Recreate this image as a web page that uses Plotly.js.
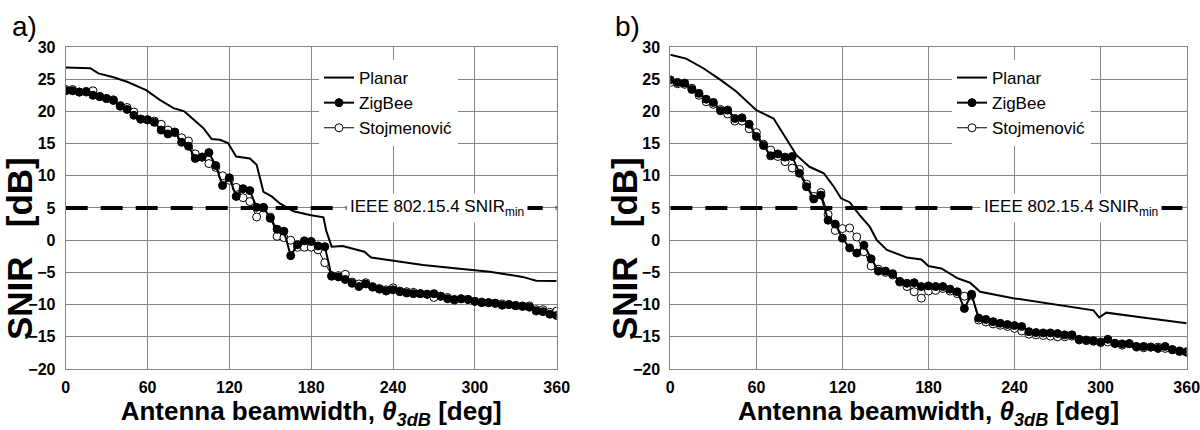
<!DOCTYPE html>
<html>
<head>
<meta charset="utf-8">
<script src="https://cdn.plot.ly/plotly-3.0.1.min.js"></script>
<style>html,body{margin:0;padding:0;background:#fff;}#chart{width:1200px;height:430px;}</style>
</head>
<body>
<div id="chart"></div>
<script>
// ---------- DATA ----------
const seriesNames = ["Planar", "ZigBee", "Stojmenović"];
const thresholdLabel = "IEEE 802.15.4 SNIR<sub>min</sub>";
const thresholdValue = 5;
const xTickVals = [0, 60, 120, 180, 240, 300, 360];
const yTickVals = [-20, -15, -10, -5, 0, 5, 10, 15, 20, 25, 30];

// beamwidth grid for ZigBee / Stojmenović samples (deg)
const beamwidth = [0,5,10,15,20,25,30,35,40,45,50,55,60,65,70,75,80,85,90,95,100,105,110,115,120,125,130,135,140,145,150,155,160,165,170,175,180,185,190,195,200,205,210,215,220,225,230,235,240,245,250,255,260,265,270,275,280,285,290,295,300,305,310,315,320,325,330,335,340,345,350,355,360];

// Panel a)
const planarA_x = [0, 18, 24, 35, 45, 59, 69, 79, 87, 94, 101, 107, 113, 119, 125, 135, 140, 145, 151, 157, 167, 179, 189, 191, 195, 203, 219, 224, 238, 262, 287, 311, 335, 345, 360];
const planarA_y = [26.8, 26.7, 25.9, 25.3, 24.6, 23.3, 21.8, 20.5, 20.0, 18.7, 17.4, 15.7, 15.6, 15.1, 13.0, 12.7, 11.7, 7.5, 6.8, 5.7, 4.5, 3.9, 3.55, 1.5, -1.0, -0.9, -1.8, -2.7, -3.1, -3.85, -4.4, -4.9, -5.7, -6.3, -6.35];
const zigbeeA = [23.2,23.2,23.0,23.1,22.5,22.3,22.0,21.7,20.8,20.3,19.4,18.8,18.7,18.3,17.1,16.5,16.8,15.2,14.6,12.7,12.9,13.6,11.6,8.5,9.7,6.8,8.0,7.7,5.1,5.1,3.4,1.7,1.4,-2.4,-0.7,-0.1,-0.2,-0.9,-1.0,-5.6,-5.7,-6.1,-6.7,-7.2,-6.8,-7.3,-7.6,-7.9,-7.7,-8.0,-8.2,-8.3,-8.3,-8.4,-8.3,-8.7,-9.1,-9.2,-9.1,-9.2,-9.5,-9.7,-9.7,-9.8,-10.1,-10.0,-10.2,-10.2,-10.4,-11.0,-11.1,-11.5,-11.7];
const stojA = [23.4,23.4,23.0,23.0,23.2,22.3,22.0,21.8,20.9,20.6,19.9,18.8,18.7,18.5,18.0,17.1,16.7,15.9,15.4,13.4,12.9,11.9,11.3,10.0,9.3,8.2,6.6,6.0,3.6,5.0,3.6,0.6,0.4,0.0,-1.1,-1.1,-1.1,-1.5,-3.5,-5.5,-5.5,-5.3,-6.5,-6.8,-6.6,-7.2,-7.5,-7.7,-7.4,-7.9,-8.0,-8.1,-8.3,-8.4,-8.9,-8.7,-8.9,-9.3,-9.1,-9.2,-9.5,-9.6,-9.7,-9.8,-9.9,-10.0,-10.1,-10.3,-10.2,-10.8,-10.8,-11.2,-11.0];

// Panel b)
const planarB_x = [0, 11, 23, 35, 46, 60, 72, 81, 88, 97, 107, 114, 119, 125, 132, 139, 144, 151, 165, 175, 180, 189, 200, 209, 216, 239, 262, 286, 295, 299, 304, 332, 360];
const planarB_y = [28.8, 28.2, 26.7, 24.9, 23.1, 20.2, 18.9, 15.6, 13.2, 11.4, 10.4, 8.3, 6.5, 5.9, 3.9, 2.1, 0.0, -1.5, -2.7, -3.0, -4.0, -4.4, -5.9, -6.6, -8.0, -9.0, -9.8, -10.6, -10.9, -12.0, -11.25, -12.1, -12.9];
const zigbeeB = [24.9,24.5,24.4,23.4,22.8,21.9,21.4,20.1,20.2,18.9,19.0,18.0,16.1,14.7,13.1,13.4,12.9,13.0,10.4,8.3,6.4,7.0,3.1,2.5,0.3,-1.2,-2.0,-0.8,-2.9,-4.8,-4.8,-5.2,-6.4,-6.7,-6.6,-7.2,-7.1,-7.2,-7.2,-7.6,-8.0,-10.6,-8.4,-12.1,-12.3,-12.65,-12.9,-13.1,-13.25,-13.4,-14.2,-14.35,-14.4,-14.4,-14.5,-14.7,-14.7,-15.4,-15.5,-15.6,-15.8,-15.4,-16.05,-16.1,-16.05,-16.5,-16.5,-16.6,-16.8,-16.5,-17.0,-17.2,-17.4];
const stojB = [24.5,24.3,24.2,23.6,22.5,21.5,21.1,20.3,19.6,18.5,18.5,17.3,16.7,14.9,14.0,13.0,12.2,11.2,11.0,8.7,6.8,7.4,4.0,1.5,1.8,1.9,0.5,-1.8,-4.0,-4.5,-5.0,-5.4,-6.5,-7.2,-8.0,-9.0,-7.9,-7.8,-7.5,-7.9,-8.3,-8.7,-8.6,-12.4,-12.7,-13.0,-13.2,-13.4,-13.7,-14.1,-14.6,-14.7,-14.8,-14.9,-15.0,-15.0,-14.9,-15.5,-15.6,-15.7,-15.9,-15.8,-16.0,-16.3,-16.1,-16.6,-16.7,-16.6,-16.6,-16.8,-17.0,-17.3,-17.3];

// ---------- STYLE ----------
const FONT = "Liberation Sans, Arial, Helvetica, sans-serif";
const GRID = "#858585";

function panelTraces(xa, ya, legendId, px, py, zy, sy) {
  return [
    {x: [0, 360], y: [thresholdValue, thresholdValue], xaxis: xa, yaxis: ya, mode: "lines",
     line: {color: "#000", width: 4, dash: "22px,13px"}, showlegend: false, hoverinfo: "skip"},
    {x: px, y: py, xaxis: xa, yaxis: ya, name: seriesNames[0], legend: legendId, legendrank: 1,
     mode: "lines", line: {color: "#000", width: 2}},
    {x: beamwidth, y: sy, xaxis: xa, yaxis: ya, name: seriesNames[2], legend: legendId, legendrank: 3,
     mode: "lines+markers", line: {color: "#000", width: 1},
     marker: {symbol: "circle", size: 8, color: "#fff", line: {color: "#000", width: 1}}},
    {x: beamwidth, y: zy, xaxis: xa, yaxis: ya, name: seriesNames[1], legend: legendId, legendrank: 2,
     mode: "lines+markers", line: {color: "#000", width: 2},
     marker: {symbol: "circle", size: 8, color: "#000", line: {color: "#000", width: 1}}}
  ];
}

const data = [].concat(
  panelTraces("x", "y", "legend", planarA_x, planarA_y, zigbeeA, stojA),
  panelTraces("x2", "y2", "legend2", planarB_x, planarB_y, zigbeeB, stojB)
);

const tickFont = {family: FONT, size: 16, color: "#000", weight: "bold"};
function xAxis(domain, anchor) {
  return {domain: domain, anchor: anchor, range: [0, 360], tickvals: xTickVals,
    showgrid: true, gridcolor: GRID, gridwidth: 1, zeroline: false,
    showline: true, mirror: true, linecolor: GRID, linewidth: 1, ticks: "",
    tickfont: tickFont, ticklabelstandoff: 4, ticklabeloverflow: "allow", automargin: false,
    title: {text: "Antenna beamwidth, <i>θ<sub>3dB</sub></i> [deg]",
            font: {family: FONT, size: 26, color: "#000", weight: "bold"}, standoff: 4}};
}
function yAxis(domain, anchor) {
  return {domain: domain, anchor: anchor, range: [-20, 30], tickvals: yTickVals,
    showgrid: true, gridcolor: GRID, gridwidth: 1, zeroline: false,
    showline: true, mirror: true, linecolor: GRID, linewidth: 1, ticks: "",
    tickfont: tickFont, ticklabelstandoff: 6, ticklabeloverflow: "allow", automargin: false};
}
const yDom = [0.1419, 0.8907];
const legendBase = {bgcolor: "#fff", borderwidth: 0, font: {family: FONT, size: 17, color: "#000"},
  itemwidth: 30, xanchor: "left", yanchor: "top", traceorder: "normal", tracegroupgap: 0};

const layout = {
  width: 1200, height: 430,
  margin: {l: 0, r: 0, t: 0, b: 0},
  paper_bgcolor: "#fff", plot_bgcolor: "#fff",
  font: {family: FONT, color: "#000"},
  xaxis: xAxis([0.05475, 0.4639], "y"),
  yaxis: yAxis(yDom, "x"),
  xaxis2: xAxis([0.5586, 0.9889], "y2"),
  yaxis2: yAxis(yDom, "x2"),
  legend: Object.assign({x: 319 / 1200, y: 1 - 60 / 430}, legendBase),
  legend2: Object.assign({x: 952 / 1200, y: 1 - 60 / 430}, legendBase),
  annotations: [
    {text: "a)", xref: "paper", yref: "paper", x: 10 / 1200, y: 1 - 26 / 430, xanchor: "left", yanchor: "middle",
     showarrow: false, font: {family: FONT, size: 28, color: "#000"}},
    {text: "b)", xref: "paper", yref: "paper", x: 613 / 1200, y: 1 - 26 / 430, xanchor: "left", yanchor: "middle",
     showarrow: false, font: {family: FONT, size: 28, color: "#000"}},
    {text: "SNIR&nbsp;&nbsp;&nbsp;[dB]", xref: "paper", yref: "paper", x: 19 / 1200, y: 1 - 249 / 430,
     xanchor: "center", yanchor: "middle",
     textangle: -90, showarrow: false, font: {family: FONT, size: 35, color: "#000", weight: "bold"}},
    {text: "SNIR&nbsp;&nbsp;&nbsp;[dB]", xref: "paper", yref: "paper", x: 624 / 1200, y: 1 - 249 / 430,
     xanchor: "center", yanchor: "middle",
     textangle: -90, showarrow: false, font: {family: FONT, size: 35, color: "#000", weight: "bold"}},
    {text: thresholdLabel, xref: "x", yref: "y", x: 272, y: thresholdValue, showarrow: false,
     bgcolor: "#fff", borderpad: 3, font: {family: FONT, size: 17, color: "#000"}},
    {text: thresholdLabel, xref: "x2", yref: "y2", x: 279, y: thresholdValue, showarrow: false,
     bgcolor: "#fff", borderpad: 3, font: {family: FONT, size: 17, color: "#000"}}
  ]
};

Plotly.newPlot("chart", data, layout, {staticPlot: true, displayModeBar: false});
</script>
</body>
</html>
